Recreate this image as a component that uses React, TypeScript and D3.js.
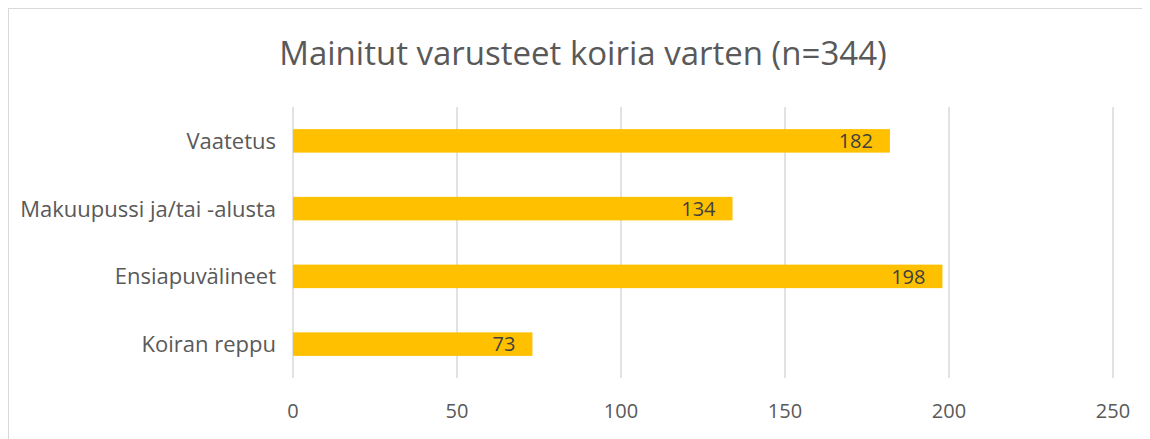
import React from "react";
import * as d3 from "d3";

const categories = ["Vaatetus", "Makuupussi ja/tai -alusta", "Ensiapuvälineet", "Koiran reppu"];
const values = [182, 134, 198, 73];
const xTicks = [0, 50, 100, 150, 200, 250];
const title = "Mainitut varusteet koiria varten (n=344)";

export default function App() {
  const W = 1160, H = 440;
  const ox = 8, oy = 8; // body margin offset
  const x = d3.scaleLinear().domain([0, 250]).range([293 - ox, 1113 - ox]);
  const y = d3.scaleBand().domain(categories).range([107 - oy, 378 - oy]).paddingInner(0.653).paddingOuter(0.3265);
  const font = "'Open Sans', 'Liberation Sans', sans-serif";
  return (
    <div style={{ width: 1142, height: 431, overflow: "hidden" }}>
      <svg width={W} height={H} style={{ display: "block" }} fontFamily={font}>
        <rect x={0} y={0} width={W} height={H} fill="#fff" />
        <line x1={0} x2={W} y1={0.5} y2={0.5} stroke="#d9d9d9" strokeWidth={1} />
        <line x1={0.5} x2={0.5} y1={0} y2={H} stroke="#d9d9d9" strokeWidth={1} />
        <text x={583 - ox} y={65 - oy} textAnchor="middle" fontSize={33} fill="#595959">{title}</text>
        {xTicks.map((t) => (
          <g key={t}>
            <line x1={x(t)} x2={x(t)} y1={107 - oy} y2={378 - oy} stroke="#d9d9d9" strokeWidth={1.5} />
            <text x={x(t)} y={418 - oy} textAnchor="middle" fontSize={20} fill="#595959">{t}</text>
          </g>
        ))}
        {categories.map((c, i) => {
          const by = y(c)!;
          const bh = y.bandwidth();
          return (
            <g key={c}>
              <rect x={x(0)} y={by} width={x(values[i]) - x(0)} height={bh} fill="#FFC000" />
              <text x={x(values[i]) - 17} y={by + bh / 2} dy="0.36em" textAnchor="end" fontSize={20} fill="#404040">{values[i]}</text>
              <text x={276 - ox} y={by + bh / 2} dy="0.36em" textAnchor="end" fontSize={22} fill="#595959">{c}</text>
            </g>
          );
        })}
      </svg>
    </div>
  );
}
